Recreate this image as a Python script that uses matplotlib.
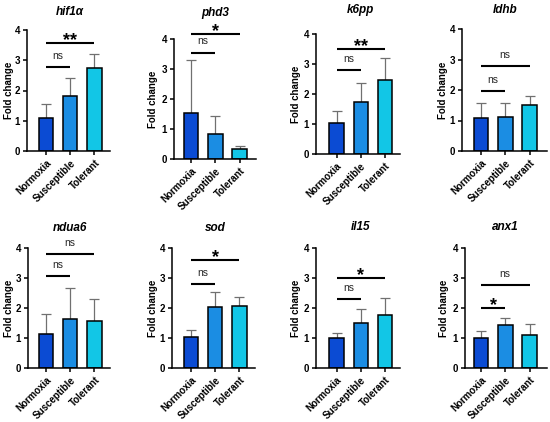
import matplotlib
matplotlib.use("Agg")
import matplotlib.pyplot as plt

plt.rcParams['font.family'] = ['Liberation Sans', 'DejaVu Sans']

# ---------------- data ----------------
groups = ["Normoxia", "Susceptible", "Tolerant"]
genes = ["hif1α", "phd3", "k6pp", "ldhb", "ndua6", "sod", "il15", "anx1"]

hif1a_mean = [1.08, 1.83, 2.74]
hif1a_top = [1.56, 2.40, 3.22]
phd3_mean = [1.53, 0.82, 0.34]
phd3_top = [3.29, 1.42, 0.45]
k6pp_mean = [1.03, 1.74, 2.47]
k6pp_top = [1.44, 2.38, 3.19]
ldhb_mean = [1.07, 1.13, 1.51]
ldhb_top = [1.58, 1.59, 1.80]
ndua6_mean = [1.14, 1.62, 1.57]
ndua6_top = [1.80, 2.68, 2.30]
sod_mean = [1.04, 2.05, 2.08]
sod_top = [1.27, 2.55, 2.38]
il15_mean = [0.99, 1.49, 1.77]
il15_top = [1.16, 1.97, 2.35]
anx1_mean = [1.00, 1.42, 1.11]
anx1_top = [1.22, 1.67, 1.47]

# significance: (from group, to group, line height, label)
hif1a_sig = [(0, 1, 2.79, "ns"), (0, 2, 3.56, "**")]
phd3_sig = [(0, 1, 3.55, "ns"), (0, 2, 4.18, "*")]
k6pp_sig = [(0, 1, 2.81, "ns"), (0, 2, 3.49, "**")]
ldhb_sig = [(0, 1, 1.97, "ns"), (0, 2, 2.79, "ns")]
ndua6_sig = [(0, 1, 3.06, "ns"), (0, 2, 3.80, "ns")]
sod_sig = [(0, 1, 2.79, "ns"), (0, 2, 3.61, "*")]
il15_sig = [(0, 1, 2.31, "ns"), (0, 2, 3.01, "*")]
anx1_sig = [(0, 1, 1.99, "*"), (0, 2, 2.78, "ns")]

means = [hif1a_mean, phd3_mean, k6pp_mean, ldhb_mean,
         ndua6_mean, sod_mean, il15_mean, anx1_mean]
tops = [hif1a_top, phd3_top, k6pp_top, ldhb_top,
        ndua6_top, sod_top, il15_top, anx1_top]
sigs = [hif1a_sig, phd3_sig, k6pp_sig, ldhb_sig,
        ndua6_sig, sod_sig, il15_sig, anx1_sig]

colors = ["#0b4bd3", "#1b8de3", "#12c6e6"]

# ---------------- layout (pixels) ----------------
W, H = 550, 422
# (left px, right px, y0 px, y4 px, xlim left, xlim right)
layout = [
    (27, 110, 151, 30, -0.78, 2.64),
    (174, 256, 159, 39, -0.70, 2.68),
    (316, 400, 154, 34, -0.85, 2.62),
    (462, 547, 151, 29, -0.78, 2.72),
    (28, 110, 368, 248, -0.74, 2.64),
    (172, 255, 368, 248, -0.78, 2.64),
    (316, 400, 368, 248, -0.85, 2.62),
    (465, 547, 368, 248, -0.66, 2.72),
]
title_y = [12, 13, 10, 10, 228, 228, 227, 227]
ylab_x = [9, 153, 296, 443, 9, 153, 296, 444]

fig = plt.figure(figsize=(W / 100, H / 100), dpi=100)

for i in range(8):
    L, R, y0, y4, xl, xr = layout[i]
    ax = fig.add_axes([L / W, (H - y0) / H, (R - L) / W, (y0 - y4) / H])
    x = list(range(len(groups)))
    m = means[i]
    err_up = [t - v for t, v in zip(tops[i], m)]
    ax.errorbar(x, m, yerr=[[0, 0, 0], err_up], fmt="none",
                ecolor="#707070", elinewidth=0.9, capsize=3.6,
                capthick=0.9, zorder=1)
    ax.bar(x, m, width=0.6, color=colors, edgecolor="black",
           linewidth=1.1, zorder=2)
    ax.set_xlim(xl, xr)
    ax.set_ylim(0, 4)
    ax.set_yticks([0, 1, 2, 3, 4])
    ax.set_xticks(x)
    ax.set_xticklabels(groups, rotation=45, ha="right",
                       rotation_mode="anchor", fontsize=7, fontweight="bold")
    for lab in ax.get_yticklabels():
        lab.set_fontsize(7)
        lab.set_fontweight("bold")
    ax.tick_params(axis="both", length=3, width=1.1, pad=2)
    for s in ["top", "right"]:
        ax.spines[s].set_visible(False)
    for s in ["left", "bottom"]:
        ax.spines[s].set_linewidth(1.1)

    for (a, b, h, lab) in sigs[i]:
        ax.plot([a, b], [h, h], color="black", lw=1.5, clip_on=False,
                solid_capstyle="butt")
        xm = (a + b) / 2
        if lab == "ns":
            ax.annotate(lab, (xm, h), xytext=(0, 5.8),
                        textcoords="offset points", ha="center",
                        va="baseline", fontsize=7.5, color="#262626",
                        annotation_clip=False)
        else:
            ax.annotate(lab, (xm, h), xytext=(0, -1.5),
                        textcoords="offset points", ha="center",
                        va="baseline", fontsize=13, fontweight="bold",
                        color="black", annotation_clip=False)

    # title centred over middle bar
    cx = ax.transData.transform((1, 0))[0] / W
    fig.text(cx, 1 - title_y[i] / H, genes[i], ha="center", va="center",
             fontsize=8.5, fontweight="bold", fontstyle="italic")
    fig.text(ylab_x[i] / W, 1 - ((y0 + y4) / 2) / H, "Fold change",
             rotation=90, ha="center", va="center", fontsize=7,
             fontweight="bold")

fig.savefig("out.png", dpi=100)
